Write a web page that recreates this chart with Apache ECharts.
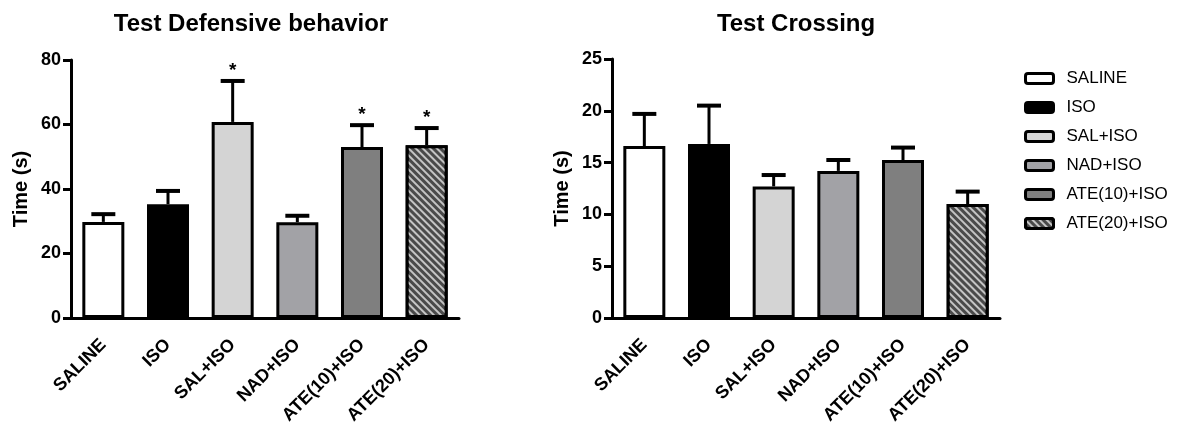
<!DOCTYPE html>
<html>
<head>
<meta charset="utf-8">
<script src="https://cdn.jsdelivr.net/npm/echarts@6/dist/echarts.min.js"></script>
<style>html,body{margin:0;padding:0;background:#fff}#c{width:1187px;height:429px}</style>
</head>
<body>
<div id="c"></div>
<script>
var categories = ['SALINE', 'ISO', 'SAL+ISO', 'NAD+ISO', 'ATE(10)+ISO', 'ATE(20)+ISO'];
var defMeans = [29.8, 35.3, 60.8, 29.7, 53.0, 53.6];
var defSem = [2.4, 4.1, 12.7, 2.0, 6.8, 5.3];
var defSig = ['', '', '*', '', '*', '*'];
var crossMeans = [16.6, 16.8, 12.7, 14.2, 15.25, 11.0];
var crossSem = [3.1, 3.7, 1.1, 1.05, 1.2, 1.2];
var crossSig = ['', '', '', '', '', ''];
var defTicks = [0, 20, 40, 60, 80];
var crossTicks = [0, 5, 10, 15, 20, 25];

var FONT = 'Arial, "Liberation Sans", sans-serif';
var fills = ['#ffffff', '#000000', '#d4d4d4', '#a2a2a6', '#7f7f7f', '#4a4a4a'];
var hatch = {symbol: 'rect', symbolSize: 1, dashArrayX: [[1, 0]], dashArrayY: [1.3, 2.7], rotation: Math.PI / 4, color: '#c4c4c4'};

function axisX(gi) {
  return {
    type: 'category', gridIndex: gi, data: categories,
    axisLine: {lineStyle: {color: '#000', width: 3}},
    axisTick: {alignWithLabel: true, length: 8, lineStyle: {color: '#000', width: 3}},
    axisLabel: {rotate: 45, margin: 24, color: '#000', fontWeight: 'bold', fontSize: 18, fontFamily: FONT, interval: 0}
  };
}
function axisY(gi, ticks) {
  return {
    type: 'value', gridIndex: gi, min: ticks[0], max: ticks[ticks.length - 1],
    interval: ticks[1] - ticks[0],
    name: 'Time (s)', nameLocation: 'middle', nameGap: 40, nameRotate: 90,
    nameTextStyle: {color: '#000', fontWeight: 'bold', fontSize: 20, fontFamily: FONT},
    axisLine: {show: true, lineStyle: {color: '#000', width: 3}},
    axisTick: {show: true, length: 8, lineStyle: {color: '#000', width: 3}},
    axisLabel: {margin: 10, color: '#000', fontWeight: 'bold', fontSize: 18, fontFamily: FONT},
    splitLine: {show: false}
  };
}
function barSeries(gi, means) {
  return categories.map(function (name, k) {
    var style = {color: fills[k], borderColor: '#000', borderWidth: 3};
    if (k === 5) style.decal = hatch;
    return {
      type: 'bar', name: name, xAxisIndex: gi, yAxisIndex: gi,
      barWidth: 42, barGap: '-100%',
      data: means.map(function (v, i) { return i === k ? v : null; }),
      itemStyle: style, z: 2
    };
  });
}
function errSeries(gi, means, sem, sig) {
  return {
    type: 'custom', xAxisIndex: gi, yAxisIndex: gi, z: 1,
    data: means.map(function (v, i) { return [i, v, v + sem[i], sig[i]]; }),
    renderItem: function (params, api) {
      var i = api.value(0);
      var p0 = api.coord([i, api.value(1)]);
      var p1 = api.coord([i, api.value(2)]);
      var half = 12;
      var children = [
        {type: 'line', shape: {x1: p0[0], y1: p0[1], x2: p1[0], y2: p1[1]}, style: {stroke: '#000', lineWidth: 3}},
        {type: 'line', shape: {x1: p1[0] - half, y1: p1[1], x2: p1[0] + half, y2: p1[1]}, style: {stroke: '#000', lineWidth: 4}}
      ];
      var s = sig[params.dataIndex];
      if (s) {
        children.push({type: 'text', style: {text: s, x: p1[0], y: p1[1] - 1, align: 'center', verticalAlign: 'bottom', fill: '#000', font: 'bold 19px ' + FONT}});
      }
      return {type: 'group', children: children};
    }
  };
}

var chart = echarts.init(document.getElementById('c'), null, {renderer: 'canvas'});
chart.setOption({
  animation: false,
  backgroundColor: '#fff',
  title: [
    {text: 'Test Defensive behavior', left: 246, top: 7, textAlign: 'center', textStyle: {fontSize: 24, fontWeight: 'bold', color: '#000', fontFamily: FONT}},
    {text: 'Test Crossing', left: 791, top: 7, textAlign: 'center', textStyle: {fontSize: 24, fontWeight: 'bold', color: '#000', fontFamily: FONT}}
  ],
  legend: {
    data: categories, orient: 'vertical', left: 1019, top: 65, itemWidth: 28, itemHeight: 10, itemGap: 12,
    icon: 'roundRect',
    itemStyle: {borderColor: '#000', borderWidth: 3},
    textStyle: {fontSize: 17, color: '#000', fontFamily: FONT, padding: [0, 0, 0, 8]}
  },
  grid: [
    {left: 71, top: 60, width: 388, height: 258},
    {left: 612, top: 59, width: 388, height: 259}
  ],
  xAxis: [axisX(0), axisX(1)],
  yAxis: [axisY(0, defTicks), axisY(1, crossTicks)],
  series: [].concat(
    barSeries(0, defMeans),
    barSeries(1, crossMeans),
    [errSeries(0, defMeans, defSem, defSig), errSeries(1, crossMeans, crossSem, crossSig)]
  )
});
</script>
</body>
</html>
